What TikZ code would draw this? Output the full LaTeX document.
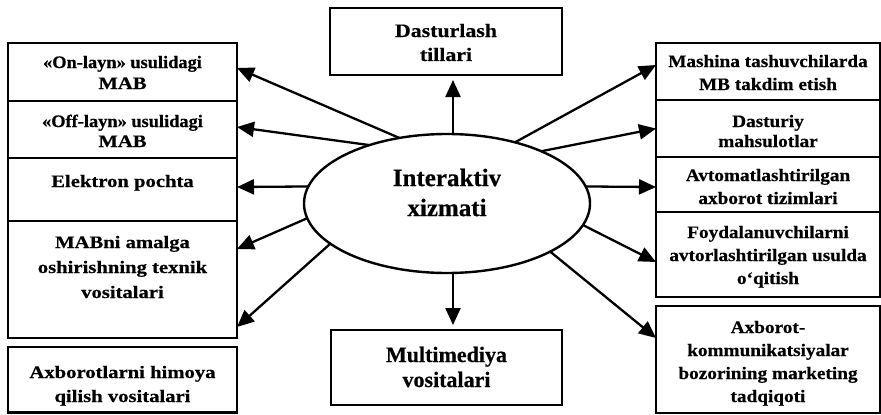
\documentclass[tikz,border=0pt]{standalone}
\usepackage{fontspec}
\setmainfont{Liberation Serif}[BoldFeatures={FakeBold=0.4}]
\newfontfamily\lfam[FakeStretch=1.18, BoldFeatures={FakeBold=0.5}]{Liberation Serif}
\newfontfamily\gfam[FakeStretch=1.05, BoldFeatures={FakeBold=0.5}]{Liberation Serif}
\newfontfamily\rfam[FakeStretch=1.1, BoldFeatures={FakeBold=0.5}]{Liberation Serif}
\newfontfamily\tfam[FakeStretch=1.15, BoldFeatures={FakeBold=0.5}]{Liberation Serif}
\usetikzlibrary{shapes.geometric,arrows.meta}
\newcommand\bxt[4]{\parbox[c][#2pt][t]{#1pt}{\centering\rule{0pt}{#3pt}#4}}
\tikzset{
  box/.style={draw, line width=2.2pt, inner sep=0pt, outer sep=0pt, anchor=north west},
  lbox/.style={box, font={\lfam\bfseries\fontsize{17.5pt}{#1pt}\selectfont}},
  rbox/.style={box, font={\rfam\bfseries\fontsize{17.5pt}{#1pt}\selectfont}},
  tbox/.style={box, font={\tfam\bfseries\fontsize{19pt}{24pt}\selectfont}},
  bbox/.style={box, font={\bfseries\fontsize{22pt}{25pt}\selectfont}},
  arr/.style={line width=2.3pt, -{Triangle[length=17pt,width=15pt]}}
}
\begin{document}
\begin{tikzpicture}[x=1pt,y=-1pt]
\useasboundingbox (0,0) rectangle (881,415);
% left column
\node[lbox=21] (L1) at (8,43) {\bxt{229}{58}{25}{{\gfam «On-layn» usulidagi}\\MAB}};
\node[lbox=20] (L2) at (8,101) {\bxt{229}{57}{26}{{\gfam «Off-layn» usulidagi}\\MAB}};
\node[lbox=21] (L3) at (8,158) {\bxt{229}{63}{29}{Elektron pochta}};
\node[lbox=25] (L4) at (8,221) {\bxt{229}{117}{27}{MABni amalga\\oshirishning texnik\\vositalari}};
\node[lbox=24] (L5) at (8,347) {\bxt{229}{65.5}{31}{Axborotlarni himoya\\qilish vositalari}};
% right column
\node[rbox=23] (R1) at (656,43) {\bxt{224}{57}{24}{Mashina tashuvchilarda\\MB takdim etish}};
\node[rbox=20] (R2) at (656,100) {\bxt{224}{57}{27}{Dasturiy\\mahsulotlar}};
\node[rbox=23] (R3) at (656,157) {\bxt{224}{55}{24}{Avtomatlashtirilgan\\axborot tizimlari}};
\node[rbox=23] (R4) at (656,212) {\bxt{224}{85}{26}{Foydalanuvchilarni\\avtorlashtirilgan usulda\\o‘qitish}};
\node[rbox=23] (R5) at (656,306) {\bxt{224}{107}{27}{Axborot-\\kommunikatsiyalar\\bozorining marketing\\tadqiqoti}};
% top and bottom
\node[tbox] (T) at (330,8) {\bxt{232}{67}{29}{Dasturlash\\tillari}};
\node[bbox] (B) at (331,330) {\bxt{231}{75}{32}{Multimediya\\vositalari}};
% centre
\node[draw, ellipse, line width=2.4pt, minimum width=286pt, minimum height=139pt,
      inner sep=0pt, outer sep=0pt, font={\bfseries\fontsize{25pt}{30pt}\selectfont}]
  (E) at (447,203.5) {\parbox{150pt}{\centering Interaktiv\\xizmati\par\vspace{22pt}}};
% arrows
\draw[arr] (E.126.6) -- ([yshift=4pt]L1.east);
\draw[arr] (E.143.6) -- ([yshift=2.5pt]L2.east);
\draw[arr] (E.173.6) -- ([yshift=2.5pt]L3.east);
\draw[arr] (E.186.8) -- ([yshift=30.5pt]L4.east);
\draw[arr] (E.199.7) -- ([yshift=-47.5pt]L4.east);
\draw[arr] (E.42.8) -- ([yshift=6.5pt]R1.west);
\draw[arr] (E.29.3) -- (R2.west);
\draw[arr] (E.7.3) -- ([yshift=-2.5pt]R3.west);
\draw[arr] (E.-9.9) -- ([yshift=-7.5pt]R4.west);
\draw[arr] (E.-25.9) -- ([yshift=21.5pt]R5.west);
\draw[arr, shorten >=5pt] ([xshift=6pt]E.north) -- ([xshift=7pt]T.south);
\draw[arr, shorten >=5pt] ([xshift=6pt]E.south) -- ([xshift=6.5pt]B.north);
\end{tikzpicture}
\end{document}
